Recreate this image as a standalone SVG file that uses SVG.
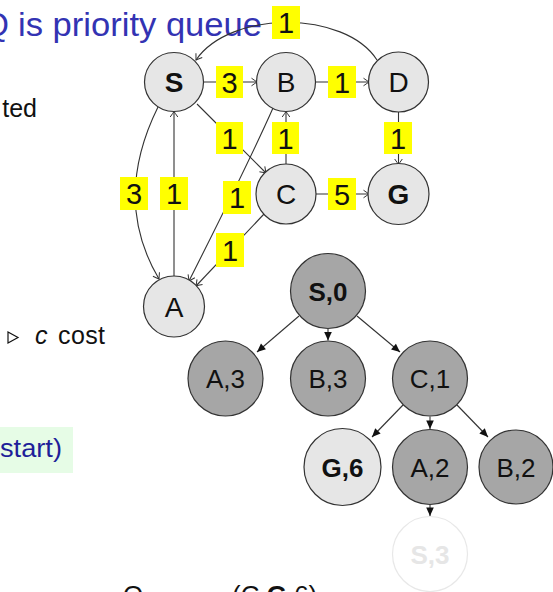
<svg xmlns="http://www.w3.org/2000/svg" width="553" height="592" viewBox="0 0 553 592">
<style>
text{font-family:"Liberation Sans",Arial,sans-serif}
.gn{fill:#e6e6e6;stroke:#333;stroke-width:1.2}
.tn{fill:#a6a6a6;stroke:#333;stroke-width:1.2}
.tl{fill:#e6e6e6;stroke:#333;stroke-width:1.2}
.gt{font-size:28px;fill:#111;text-anchor:middle}
.tt{font-size:26px;fill:#111;text-anchor:middle}
.b{font-weight:bold}
.e{fill:none;stroke:#333;stroke-width:1.1;marker-end:url(#to)}
.te{fill:none;stroke:#333;stroke-width:1.1;marker-end:url(#lt)}
.lb{fill:#ffff00}
.lt{font-size:29px;fill:#111;text-anchor:middle}
.body{font-size:25px;fill:#111}
</style>
<defs>
<marker id="to" markerUnits="userSpaceOnUse" markerWidth="12" markerHeight="12" viewBox="-8 -6 10 12" refX="0" refY="0" orient="auto">
<path d="M-5.5,-3.8 Q-1.5,-1 0,0 Q-1.5,1 -5.5,3.8" fill="none" stroke="#333" stroke-width="1"/>
</marker>
<marker id="lt" markerUnits="userSpaceOnUse" markerWidth="12" markerHeight="12" viewBox="-10 -6 12 12" refX="0" refY="0" orient="auto">
<path d="M0,0 L-8.5,-3.8 L-8.5,3.8 z" fill="#111"/>
</marker>
</defs>

<!-- text fragments -->
<g id="texts">
<text x="9" y="36" font-size="33" fill="#3333b3" text-anchor="end">Q</text>
<text x="18" y="36" font-size="33" fill="#3333b3" textLength="244" lengthAdjust="spacingAndGlyphs">is priority queue</text>
<text x="37" y="117" class="body" text-anchor="end">ted</text>
<path d="M8,332 L18,337.5 L8,343 z" fill="none" stroke="#111" stroke-width="1.2"/>
<text x="35" y="344" class="body" font-style="italic">c</text>
<text x="58" y="344" class="body" textLength="47">cost</text>
<rect x="0" y="427" width="73" height="46" fill="#e6fce6"/>
<text x="0" y="457" font-size="26" fill="#1f1f99" textLength="62" lengthAdjust="spacingAndGlyphs">start)</text>
<text x="123" y="604" font-size="26" fill="#111">Q</text>
<text x="232" y="604" font-size="26" fill="#111">(C,<tspan font-weight="bold">G</tspan>,6)</text>
</g>

<!-- graph connectors -->
<g id="connectors">
<path class="e" d="M203,82 L257,82"/>
<path class="e" d="M315,82 L369,82"/>
<path class="e" d="M197,104 L266,173"/>
<path class="e" d="M286,164.5 L286,111.5"/>
<path class="e" d="M398.5,111.5 L398.5,164.5"/>
<path class="e" d="M315.5,194 L369,194"/>
<path class="e" d="M158,107 Q112,200 159,279"/>
<path class="e" d="M174,276.5 L174,111.5"/>
<path class="e" d="M273,108 Q250,160 189,281"/>
<path class="e" d="M264,214 L196,286"/>
<path class="e" d="M377,60 C345,10 230,10 196,60"/>
<!-- tree connectors -->
<path class="te" d="M299,316 L257,352"/>
<path class="te" d="M328,329 L328,340.5"/>
<path class="te" d="M357,316 L400,352"/>
<path class="te" d="M403,405 L372,437"/>
<path class="te" d="M430,416.5 L430,429"/>
<path class="te" d="M457,405 L488,437"/>
<path class="te" d="M430,505 L430,516"/>
</g>

<!-- edge labels -->
<g id="edge-labels">
<rect class="lb" x="216" y="66" width="27" height="32"/><text class="lt" x="229.5" y="92.5">3</text>
<rect class="lb" x="328" y="66" width="28" height="32"/><text class="lt" x="342" y="92.5">1</text>
<rect class="lb" x="216" y="122" width="27" height="32"/><text class="lt" x="229.5" y="148.5">1</text>
<rect class="lb" x="272" y="122" width="27" height="32"/><text class="lt" x="285.5" y="148.5">1</text>
<rect class="lb" x="384" y="122" width="28" height="32"/><text class="lt" x="398" y="148.5">1</text>
<rect class="lb" x="328" y="178" width="28" height="32"/><text class="lt" x="342" y="204.5">5</text>
<rect class="lb" x="120" y="177" width="28" height="33"/><text class="lt" x="134" y="204">3</text>
<rect class="lb" x="160" y="177" width="28" height="33"/><text class="lt" x="174" y="204">1</text>
<rect class="lb" x="223" y="181" width="28" height="33"/><text class="lt" x="237" y="208">1</text>
<rect class="lb" x="216" y="233" width="28" height="34"/><text class="lt" x="230" y="260.5">1</text>
<rect class="lb" x="272" y="6" width="28" height="33"/><text class="lt" x="286" y="33">1</text>
</g>

<!-- graph nodes -->
<g id="node-S"><circle class="gn" cx="174" cy="82" r="29.5"/><text class="gt b" x="174" y="92">S</text></g>
<g id="node-B"><circle class="gn" cx="286" cy="82" r="29.5"/><text class="gt" x="286" y="92">B</text></g>
<g id="node-D"><circle class="gn" cx="398.5" cy="82" r="30"/><text class="gt" x="398.5" y="92">D</text></g>
<g id="node-C"><circle class="gn" cx="286" cy="194" r="30"/><text class="gt" x="286" y="204">C</text></g>
<g id="node-G"><circle class="gn" cx="398.5" cy="194" r="30.5"/><text class="gt b" x="398.5" y="204">G</text></g>
<g id="node-A"><circle class="gn" cx="174" cy="306.5" r="30.5"/><text class="gt" x="174" y="316.5">A</text></g>

<!-- tree nodes -->
<g id="tree-S0"><circle class="tn" cx="328" cy="291" r="37.5"/><text class="tt b" x="328" y="300.5">S,0</text></g>
<g id="tree-A3"><circle class="tn" cx="225.5" cy="378.5" r="37.5"/><text class="tt" x="225.5" y="388">A,3</text></g>
<g id="tree-B3"><circle class="tn" cx="328" cy="378.5" r="37.5"/><text class="tt" x="328" y="388">B,3</text></g>
<g id="tree-C1"><circle class="tn" cx="430" cy="378.5" r="37.5"/><text class="tt" x="430" y="388">C,1</text></g>
<g id="tree-G6"><circle class="tl" cx="342.5" cy="467" r="38.5"/><text class="tt b" x="342.5" y="476.5">G,6</text></g>
<g id="tree-A2"><circle class="tn" cx="430" cy="467" r="37.5"/><text class="tt" x="430" y="476.5">A,2</text></g>
<g id="tree-B2"><circle class="tn" cx="516" cy="467" r="37"/><text class="tt" x="516" y="476.5">B,2</text></g>
<g id="tree-S3"><circle cx="430" cy="554" r="37.5" fill="#fff" stroke="#e8e8e8" stroke-width="1.2"/><text class="tt b" x="430" y="563.5" fill="#e6e6e6" style="fill:#e6e6e6">S,3</text></g>
</svg>
